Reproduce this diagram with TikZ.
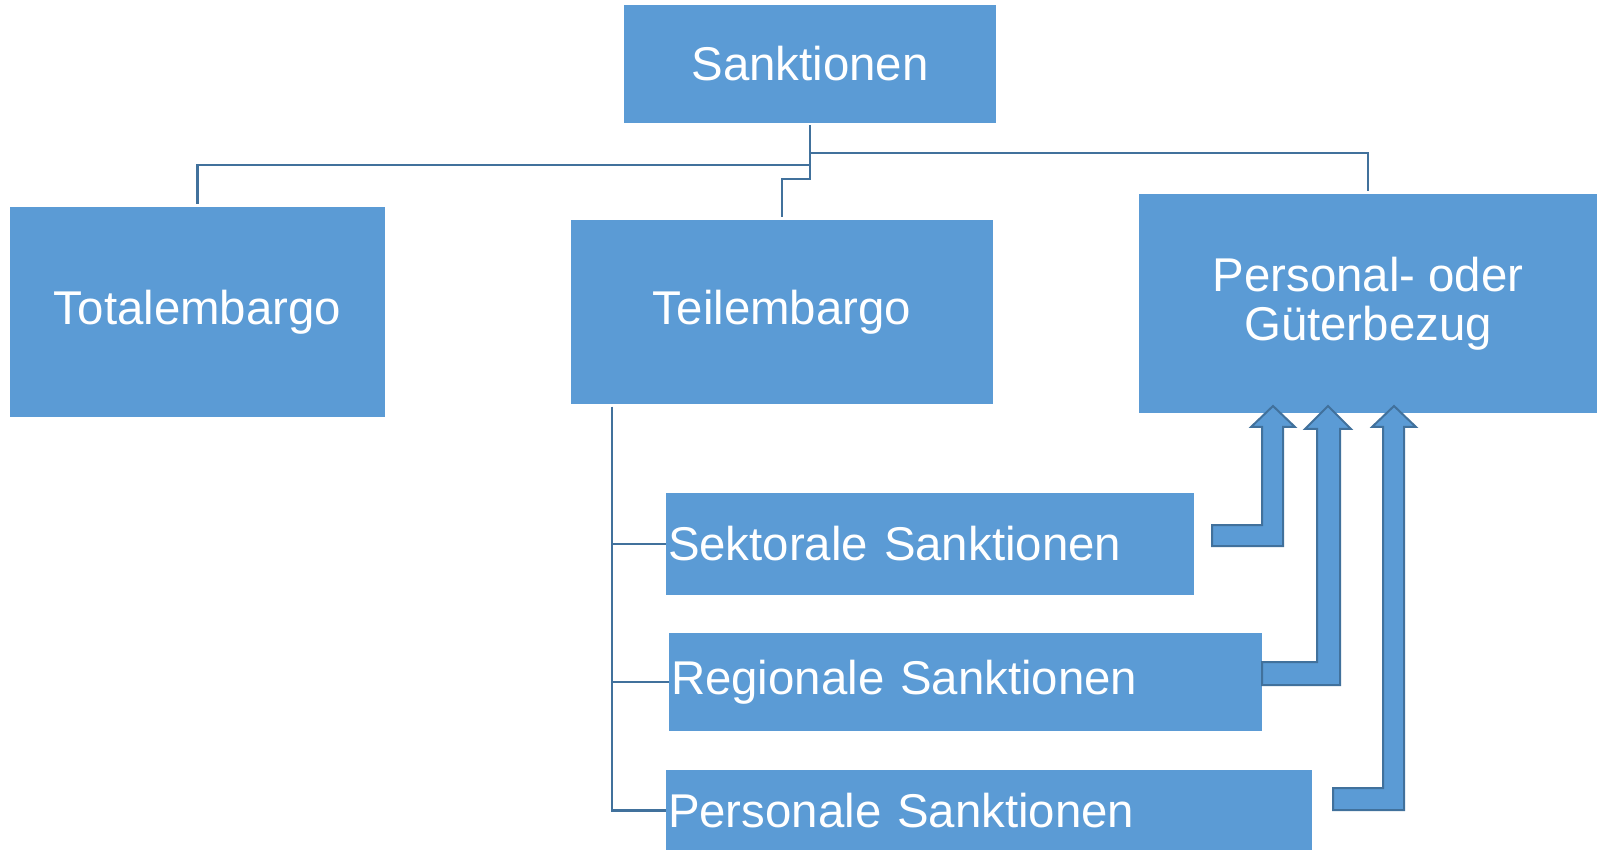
\documentclass[tikz,border=0pt]{standalone}
\usepackage{fontspec}
\setmainfont{Liberation Sans}
\definecolor{boxblue}{RGB}{91,155,213}
\definecolor{lineblue}{RGB}{65,113,156}
\tikzset{
  box/.style={fill=boxblue, draw=none, text=white, inner sep=0pt,
    font=\fontsize{23.7}{24.7}\selectfont, align=center},
  leftbox/.style={box, align=left, inner xsep=1pt},
  conn/.style={draw=lineblue, line width=1.3pt},
  bentarrow/.style={fill=boxblue, draw=lineblue, line width=1pt, line join=miter}
}
\begin{document}
\begin{tikzpicture}[x=0.5pt,y=-0.5pt]
\clip (0,0) rectangle (1597,850);
\fill[white] (0,0) rectangle (1597,850);

% boxes
\node[box, minimum width=186pt, minimum height=59pt] (sank) at (810,64) {Sanktionen};
\node[box, minimum width=187.5pt, minimum height=105pt] (total) at (197.5,312) {Totalembargo};
\node[box, minimum width=211pt, minimum height=92pt] (teil) at (782,312) {Teilembargo};
\node[box, minimum width=229pt, minimum height=109.5pt] (pers) at (1368,304) {Personal- oder\\Güterbezug};
\node[leftbox, text width=262pt, minimum height=51pt] (sek) at (930,544) {Sektorale Sanktionen};
\node[leftbox, text width=294.5pt, minimum height=49pt] (reg) at (965.5,682) {Regionale Sanktionen};
\node[leftbox, text width=321pt, minimum height=41pt] (perso) at (989,810.5) {Personale Sanktionen};

% connectors from Sanktionen
\coordinate (jr) at (810,153);
\coordinate (jl) at (810,165);
\coordinate (jt) at (810,179);
\coordinate (tn) at (782,217);
\coordinate (pn) at (1368,191);
\coordinate (ton) at (197.5,204);
\draw[conn] ([yshift=-1pt]sank.south) -- (jt) -| (tn);
\draw[conn] (jr) -| (pn);
\draw[conn] (jl) -| (ton);

% connectors from Teilembargo
\coordinate (lv) at (612,407);
\draw[conn] (lv) |- (sek.west);
\draw[conn] (lv) |- (reg.west);
\draw[conn] (lv) |- (perso.west);

% bent-up arrows
\draw[bentarrow] (1212,525) -- (1262,525) -- (1262,427) -- (1251,427) -- (1273,406)
  -- (1295,427) -- (1283,427) -- (1283,546) -- (1212,546) -- cycle;
\draw[bentarrow] (1262,662) -- (1317,662) -- (1317,429) -- (1305,429) -- (1328,406)
  -- (1351,429) -- (1340,429) -- (1340,685) -- (1262,685) -- cycle;
\draw[bentarrow] (1333,788) -- (1383,788) -- (1383,427) -- (1372,427) -- (1394,406)
  -- (1416,427) -- (1404,427) -- (1404,810) -- (1333,810) -- cycle;
\end{tikzpicture}
\end{document}
